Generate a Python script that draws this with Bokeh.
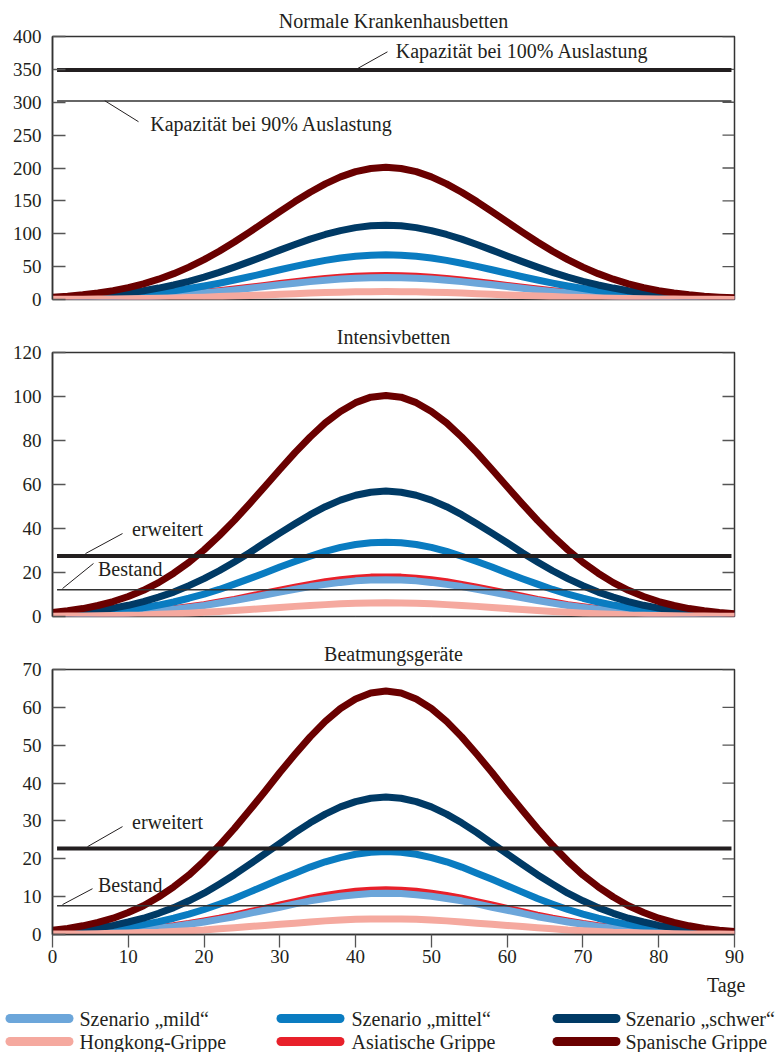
import math
from bokeh.plotting import figure
from bokeh.layouts import column
from bokeh.models import Range1d, FixedTicker, ColumnDataSource, LabelSet, Whisker
from bokeh.embed import file_html
from bokeh.resources import INLINE
from bokeh.core.properties import value

FONT = "Liberation Serif"
TXT = "#231f20"
AXC = "#333333"
TICKC = "#555555"

days = [0, 2, 4, 6, 8, 10, 12, 14, 16, 18, 20, 22, 24, 26, 28, 30, 32, 34, 36, 38, 40, 42, 44,
        46, 48, 50, 52, 54, 56, 58, 60, 62, 64, 66, 68, 70, 72, 74, 76, 78, 80, 82, 84, 86, 88, 90]
x_ticks = [0, 10, 20, 30, 40, 50, 60, 70, 80, 90]

series_names = ["Szenario \u201emild\u201c", "Szenario \u201emittel\u201c", "Szenario \u201eschwer\u201c",
                "Hongkong-Grippe", "Asiatische Grippe", "Spanische Grippe"]
series_colors = ["#6CA6DA", "#0A7CC1", "#003A65", "#F5A99F", "#E8202A", "#6A0000"]

# ---- Panel 1: Normale Krankenhausbetten
p1_mild = [0.6, 0.9, 1.2, 1.7, 2.3, 3.0, 4.0, 5.1, 6.6, 8.2, 10.1, 12.2, 14.6, 17.1, 19.7, 22.3, 24.8, 27.2, 29.3, 31.1, 32.4, 33.2, 33.5,
           33.2, 32.4, 31.1, 29.3, 27.2, 24.8, 22.3, 19.7, 17.1, 14.6, 12.2, 10.1, 8.2, 6.6, 5.1, 4.0, 3.0, 2.3, 1.7, 1.2, 0.9, 0.6, 0.4]
p1_mittel = [1.2, 1.7, 2.4, 3.4, 4.6, 6.1, 8.1, 10.5, 13.3, 16.7, 20.5, 24.8, 29.6, 34.6, 39.9, 45.2, 50.4, 55.2, 59.5, 63.1, 65.8, 67.4, 68.0,
             67.4, 65.8, 63.1, 59.5, 55.2, 50.4, 45.2, 39.9, 34.6, 29.6, 24.8, 20.5, 16.7, 13.3, 10.5, 8.1, 6.1, 4.6, 3.4, 2.4, 1.7, 1.2, 0.8]
p1_schwer = [2.0, 2.9, 4.0, 5.6, 7.6, 10.2, 13.4, 17.4, 22.1, 27.7, 34.1, 41.3, 49.2, 57.6, 66.3, 75.1, 83.7, 91.8, 98.9, 104.8, 109.3, 112.1, 113.0,
             112.1, 109.3, 104.8, 98.9, 91.8, 83.7, 75.1, 66.3, 57.6, 49.2, 41.3, 34.1, 27.7, 22.1, 17.4, 13.4, 10.2, 7.6, 5.6, 4.0, 2.9, 2.0, 1.4]
p1_hk = [0.2, 0.3, 0.4, 0.6, 0.8, 1.1, 1.4, 1.8, 2.3, 2.9, 3.6, 4.4, 5.2, 6.1, 7.0, 8.0, 8.9, 9.7, 10.5, 11.1, 11.6, 11.9, 12.0,
         11.9, 11.6, 11.1, 10.5, 9.7, 8.9, 8.0, 7.0, 6.1, 5.2, 4.4, 3.6, 2.9, 2.3, 1.8, 1.4, 1.1, 0.8, 0.6, 0.4, 0.3, 0.2, 0.1]
p1_asian = [0.6, 0.9, 1.3, 1.8, 2.5, 3.3, 4.3, 5.6, 7.1, 8.9, 11.0, 13.3, 15.9, 18.6, 21.4, 24.3, 27.0, 29.6, 31.9, 33.9, 35.3, 36.2, 36.5,
            36.2, 35.3, 33.9, 31.9, 29.6, 27.0, 24.3, 21.4, 18.6, 15.9, 13.3, 11.0, 8.9, 7.1, 5.6, 4.3, 3.3, 2.5, 1.8, 1.3, 0.9, 0.6, 0.4]
p1_spanish = [3.6, 5.1, 7.2, 9.9, 13.5, 18.1, 23.9, 30.9, 39.3, 49.2, 60.6, 73.4, 87.4, 102.4, 118.0, 133.7, 148.9, 163.2, 175.9, 186.5, 194.4, 199.3, 201.0,
              199.3, 194.4, 186.5, 175.9, 163.2, 148.9, 133.7, 118.0, 102.4, 87.4, 73.4, 60.6, 49.2, 39.3, 30.9, 23.9, 18.1, 13.5, 9.9, 7.2, 5.1, 3.6, 2.5]
p1_caps = [349, 302]
p1_cap_labels = ["Kapazit\u00e4t bei 100% Auslastung", "Kapazit\u00e4t bei 90% Auslastung"]

# ---- Panel 2: Intensivbetten
p2_mild = [0.3, 0.4, 0.6, 0.8, 1.1, 1.5, 2.0, 2.6, 3.3, 4.1, 5.0, 6.1, 7.3, 8.5, 9.8, 11.1, 12.4, 13.6, 14.6, 15.5, 16.2, 16.6, 16.7,
           16.6, 16.2, 15.5, 14.6, 13.6, 12.4, 11.1, 9.8, 8.5, 7.3, 6.1, 5.0, 4.1, 3.3, 2.6, 2.0, 1.5, 1.1, 0.8, 0.6, 0.4, 0.3, 0.2]
p2_mittel = [0.6, 0.9, 1.2, 1.7, 2.3, 3.0, 4.0, 5.2, 6.6, 8.3, 10.2, 12.3, 14.7, 17.2, 19.8, 22.5, 25.0, 27.4, 29.6, 31.4, 32.7, 33.5, 33.8,
             33.5, 32.7, 31.4, 29.6, 27.4, 25.0, 22.5, 19.8, 17.2, 14.7, 12.3, 10.2, 8.3, 6.6, 5.2, 4.0, 3.0, 2.3, 1.7, 1.2, 0.9, 0.6, 0.4]
p2_schwer = [1.0, 1.4, 2.0, 2.8, 3.8, 5.1, 6.8, 8.8, 11.1, 14.0, 17.2, 20.8, 24.8, 29.0, 33.5, 37.9, 42.2, 46.3, 49.9, 52.9, 55.1, 56.5, 57.0,
             56.5, 55.1, 52.9, 49.9, 46.3, 42.2, 37.9, 33.5, 29.0, 24.8, 20.8, 17.2, 14.0, 11.1, 8.8, 6.8, 5.1, 3.8, 2.8, 2.0, 1.4, 1.0, 0.7]
p2_hk = [0.1, 0.2, 0.2, 0.3, 0.4, 0.6, 0.7, 1.0, 1.2, 1.5, 1.9, 2.3, 2.7, 3.2, 3.6, 4.1, 4.6, 5.0, 5.4, 5.8, 6.0, 6.1, 6.2,
         6.1, 6.0, 5.8, 5.4, 5.0, 4.6, 4.1, 3.6, 3.2, 2.7, 2.3, 1.9, 1.5, 1.2, 1.0, 0.7, 0.6, 0.4, 0.3, 0.2, 0.2, 0.1, 0.1]
p2_asian = [0.3, 0.5, 0.6, 0.9, 1.2, 1.6, 2.1, 2.8, 3.5, 4.4, 5.4, 6.6, 7.8, 9.2, 10.6, 12.0, 13.3, 14.6, 15.8, 16.7, 17.4, 17.9, 18.0,
            17.9, 17.4, 16.7, 15.8, 14.6, 13.3, 12.0, 10.6, 9.2, 7.8, 6.6, 5.4, 4.4, 3.5, 2.8, 2.1, 1.6, 1.2, 0.9, 0.6, 0.5, 0.3, 0.2]
p2_spanish = [1.8, 2.6, 3.6, 5.0, 6.8, 9.1, 11.9, 15.4, 19.7, 24.6, 30.3, 36.7, 43.7, 51.2, 59.0, 66.8, 74.5, 81.6, 88.0, 93.2, 97.2, 99.7, 100.5,
              99.7, 97.2, 93.2, 88.0, 81.6, 74.5, 66.8, 59.0, 51.2, 43.7, 36.7, 30.3, 24.6, 19.7, 15.4, 11.9, 9.1, 6.8, 5.0, 3.6, 2.6, 1.8, 1.2]
p2_caps = [27.5, 12.2]
cap_labels = ["erweitert", "Bestand"]

# ---- Panel 3: Beatmungsgeraete
p3_mild = [0.2, 0.3, 0.4, 0.5, 0.7, 1.0, 1.3, 1.7, 2.1, 2.7, 3.3, 4.0, 4.7, 5.6, 6.4, 7.2, 8.1, 8.9, 9.5, 10.1, 10.5, 10.8, 10.9,
           10.8, 10.5, 10.1, 9.5, 8.9, 8.1, 7.2, 6.4, 5.6, 4.7, 4.0, 3.3, 2.7, 2.1, 1.7, 1.3, 1.0, 0.7, 0.5, 0.4, 0.3, 0.2, 0.1]
p3_mittel = [0.4, 0.6, 0.8, 1.1, 1.5, 2.0, 2.6, 3.4, 4.3, 5.4, 6.6, 8.0, 9.5, 11.2, 12.9, 14.6, 16.2, 17.8, 19.2, 20.3, 21.2, 21.7, 21.9,
             21.7, 21.2, 20.3, 19.2, 17.8, 16.2, 14.6, 12.9, 11.2, 9.5, 8.0, 6.6, 5.4, 4.3, 3.4, 2.6, 2.0, 1.5, 1.1, 0.8, 0.6, 0.4, 0.3]
p3_schwer = [0.6, 0.9, 1.3, 1.8, 2.4, 3.3, 4.3, 5.6, 7.1, 8.9, 10.9, 13.3, 15.8, 18.5, 21.3, 24.1, 26.9, 29.5, 31.8, 33.7, 35.1, 36.0, 36.3,
             36.0, 35.1, 33.7, 31.8, 29.5, 26.9, 24.1, 21.3, 18.5, 15.8, 13.3, 10.9, 8.9, 7.1, 5.6, 4.3, 3.3, 2.4, 1.8, 1.3, 0.9, 0.6, 0.4]
p3_hk = [0.1, 0.1, 0.1, 0.2, 0.3, 0.4, 0.5, 0.6, 0.8, 1.0, 1.2, 1.5, 1.8, 2.1, 2.4, 2.7, 3.0, 3.3, 3.6, 3.8, 4.0, 4.1, 4.1,
         4.1, 4.0, 3.8, 3.6, 3.3, 3.0, 2.7, 2.4, 2.1, 1.8, 1.5, 1.2, 1.0, 0.8, 0.6, 0.5, 0.4, 0.3, 0.2, 0.1, 0.1, 0.1, 0.05]
p3_asian = [0.2, 0.3, 0.4, 0.6, 0.8, 1.1, 1.4, 1.8, 2.3, 2.9, 3.6, 4.3, 5.1, 6.0, 6.9, 7.8, 8.7, 9.6, 10.3, 10.9, 11.4, 11.7, 11.8,
            11.7, 11.4, 10.9, 10.3, 9.6, 8.7, 7.8, 6.9, 6.0, 5.1, 4.3, 3.6, 2.9, 2.3, 1.8, 1.4, 1.1, 0.8, 0.6, 0.4, 0.3, 0.2, 0.1]
p3_spanish = [1.1, 1.6, 2.3, 3.2, 4.3, 5.8, 7.6, 9.9, 12.6, 15.7, 19.4, 23.5, 28.0, 32.8, 37.7, 42.8, 47.6, 52.2, 56.3, 59.7, 62.2, 63.8, 64.3,
              63.8, 62.2, 59.7, 56.3, 52.2, 47.6, 42.8, 37.7, 32.8, 28.0, 23.5, 19.4, 15.7, 12.6, 9.9, 7.6, 5.8, 4.3, 3.2, 2.3, 1.6, 1.1, 0.8]
p3_caps = [22.7, 7.6]

panel_titles = ["Normale Krankenhausbetten", "Intensivbetten", "Beatmungsger\u00e4te"]
y_ticks_1 = [0, 50, 100, 150, 200, 250, 300, 350, 400]
y_ticks_2 = [0, 20, 40, 60, 80, 100, 120]
y_ticks_3 = [0, 10, 20, 30, 40, 50, 60, 70]
x_axis_title = "Tage"

FRAME_L, FRAME_R = 52, 41


def make_panel(title, yticks, data, top_b, frame_h, bottom_b, show_x_axis):
    p = figure(width=775, height=top_b + frame_h + bottom_b,
               x_range=Range1d(0, 90), y_range=Range1d(0, yticks[-1]),
               output_backend="svg", toolbar_location=None,
               min_border_left=FRAME_L, min_border_right=FRAME_R,
               min_border_top=top_b, min_border_bottom=bottom_b,
               x_axis_location="below" if show_x_axis else None,
               background_fill_color="white", border_fill_color="white")
    p.outline_line_color = AXC
    p.outline_line_width = 1.5
    p.grid.visible = False

    p.title.text = title
    p.title.align = "center"
    p.title.text_font = FONT
    p.title.text_font_size = "20px"
    p.title.text_font_style = "normal"
    p.title.text_color = TXT
    p.title.standoff = 9

    if show_x_axis:
        xa = p.xaxis[0]
        xa.ticker = FixedTicker(ticks=x_ticks)
        xa.major_tick_in = 0
        xa.major_tick_out = 13
        xa.minor_tick_line_color = None
        xa.axis_line_color = AXC
        xa.axis_line_width = 1.5
        xa.major_tick_line_color = TICKC
        xa.major_tick_line_width = 1.3
        xa.major_label_text_font = FONT
        xa.major_label_text_color = TXT
        xa.major_label_text_font_size = "19px"
        xa.major_label_standoff = 2
    else:
        ppu = frame_h / yticks[-1]
        tsrc = ColumnDataSource(dict(base=x_ticks, lower=[-13 / ppu] * len(x_ticks),
                                     upper=[0] * len(x_ticks)))
        p.add_layout(Whisker(source=tsrc, base="base", lower="lower", upper="upper",
                             dimension="height", lower_head=None, upper_head=None,
                             line_color=TICKC, line_width=1.3))

    ya = p.yaxis[0]
    ya.ticker = FixedTicker(ticks=yticks)
    ya.major_tick_in = 13
    ya.major_tick_out = 0
    ya.minor_tick_line_color = None
    ya.axis_line_color = AXC
    ya.axis_line_width = 1.5
    ya.major_tick_line_color = TICKC
    ya.major_tick_line_width = 1.3
    ya.major_label_text_font = FONT
    ya.major_label_text_font_size = "19px"
    ya.major_label_text_color = TXT
    ya.major_label_standoff = 11

    p.ray(x=[90] * len(yticks), y=yticks, length=12, length_units="screen", angle=math.pi,
          line_color=TICKC, line_width=1.3)
    src = ColumnDataSource(dict(y=yticks, t=[str(v) for v in yticks]))
    p.add_layout(LabelSet(x=90, y="y", text="t", source=src, x_offset=40,
                          text_align="right", text_baseline="middle",
                          text_font=value(FONT), text_font_size=value("19px"),
                          text_color=TXT))

    mild, mittel, schwer, hk, asian, spanish = data
    order = [(asian, 4), (mild, 0), (mittel, 1), (schwer, 2), (spanish, 5), (hk, 3)]
    for arr, idx in order:
        p.line(days, arr, line_width=7, line_color=series_colors[idx],
               line_cap="round", line_join="round")
    return p


P3_BOTTOM = 38
p1 = make_panel(panel_titles[0], y_ticks_1,
                [p1_mild, p1_mittel, p1_schwer, p1_hk, p1_asian, p1_spanish], 36, 263, 17, False)
p2 = make_panel(panel_titles[1], y_ticks_2,
                [p2_mild, p2_mittel, p2_schwer, p2_hk, p2_asian, p2_spanish], 36, 264, 20, False)
p3 = make_panel(panel_titles[2], y_ticks_3,
                [p3_mild, p3_mittel, p3_schwer, p3_hk, p3_asian, p3_spanish], 33, 265, P3_BOTTOM, True)

# capacity lines (thick = upper, thin = lower)
for p, caps in [(p1, p1_caps), (p2, p2_caps), (p3, p3_caps)]:
    p.segment(x0=[0.6], y0=[caps[0]], x1=[89.6], y1=[caps[0]], line_width=4, line_color="#231f20")
    p.segment(x0=[0.6], y0=[caps[1]], x1=[89.6], y1=[caps[1]], line_width=1.5, line_color=AXC)

# annotations with leader lines
p1.segment(x0=[40.2, 6.9], y0=[350.9, 302.3], x1=[44.2, 11.35], y1=[376.7, 270.4],
           line_width=1, line_color=TXT)
p1.text(x=[45.3, 12.9], y=[377.5, 267.0], text=p1_cap_labels, text_font=value(FONT),
        text_font_size=value("20px"), text_color=TXT, text_baseline="middle", text_align="left")

p2.segment(x0=[4.35, 1.32], y0=[28.6, 12.7], x1=[9.24, 5.41], y1=[37.7, 24.1],
           line_width=1, line_color=TXT)
p2.text(x=[10.5, 6.0], y=[39.9, 21.4], text=cap_labels, text_font=value(FONT),
        text_font_size=value("20px"), text_color=TXT, text_baseline="middle", text_align="left")

p3.segment(x0=[4.62, 1.32], y0=[23.2, 7.9], x1=[9.24, 5.28], y1=[28.5, 12.1],
           line_width=1, line_color=TXT)
p3.text(x=[10.5, 6.0], y=[29.7, 13.0], text=cap_labels, text_font=value(FONT),
        text_font_size=value("20px"), text_color=TXT, text_baseline="middle", text_align="left")

# ---- legend and x-axis title (separate figure, coordinates in page pixels)
leg_top = 316 + 320 + 33 + 265 + P3_BOTTOM
leg = figure(width=775, height=1052 - leg_top, x_range=Range1d(0, 775), y_range=Range1d(1052, leg_top),
             output_backend="svg", toolbar_location=None, min_border=0,
             min_border_left=0, min_border_right=0, min_border_top=0, min_border_bottom=0,
             x_axis_location=None, y_axis_location=None,
             background_fill_color="white", border_fill_color="white")
leg.outline_line_color = None
leg.grid.visible = False

leg.text(x=[745], y=[984], text=[x_axis_title], text_font=value(FONT), text_font_size=value("20px"),
         text_color=TXT, text_baseline="middle", text_align="right")

col_line_x0 = [9.5, 280.5, 556.5]
col_line_x1 = [68.5, 339.5, 615.5]
col_text_x = [79, 351, 625]
row_y = [1018, 1041]
for i, (name, color) in enumerate(zip(series_names, series_colors)):
    r, c = divmod(i, 3)
    leg.segment(x0=[col_line_x0[c]], y0=[row_y[r]], x1=[col_line_x1[c]], y1=[row_y[r]],
                line_width=9, line_color=color, line_cap="round")
    leg.text(x=[col_text_x[c]], y=[row_y[r]], text=[name], text_font=value(FONT),
             text_font_size=value("20px"), text_color=TXT, text_baseline="middle", text_align="left")

layout = column(p1, p2, p3, spacing=0)
open("out.html", "w").write(file_html([layout, leg], INLINE))
